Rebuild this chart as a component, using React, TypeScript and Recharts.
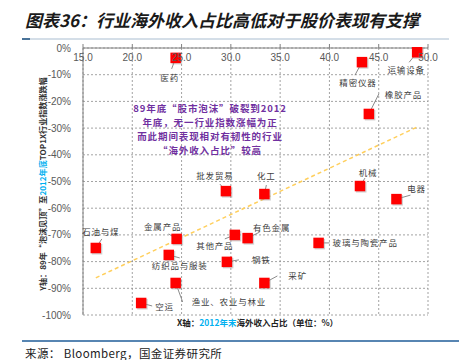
import React from 'react';
import { ScatterChart, Scatter, XAxis, YAxis, CartesianGrid, ReferenceLine } from 'recharts';

const industries = ['医药', '运输设备', '精密仪器', '橡胶产品', '机械', '电器', '玻璃与陶瓷产品', '采矿', '化工', '批发贸易', '金属产品', '其他产品', '有色金属', '纺织品与服装', '钢铁', '渔业、农业与林业', '空运', '石油与煤'];
const overseasShare = [24.4, 48.9, 43.3, 44.0, 43.1, 46.8, 38.9, 33.4, 33.4, 29.5, 24.5, 30.4, 31.7, 23.7, 29.6, 24.4, 20.9, 16.3];
const indexChange = [-3.7, -1.6, -5.3, -24.7, -51.7, -56.6, -73.0, -88.0, -54.7, -53.6, -71.5, -70.0, -71.2, -77.5, -80.1, -88.0, -95.5, -74.9];
const xTicks = [15, 20, 25, 30, 35, 40, 45, 50];
const yTicks = [0, -10, -20, -30, -40, -50, -60, -70, -80, -90, -100];
const trendX = [16.3, 48.9];
const trendY = [-86.1, -29.6];

const titleText = '图表36：行业海外收入占比高低对于股价表现有支撑';
const noteLines = ['89年底“股市泡沫”破裂到2012', '年底，无一行业指数涨幅为正', '而此期间表现相对有韧性的行业', '“海外收入占比”较高'];
const sourceText = '来源：  Bloomberg，国金证券研究所';

const data = industries.map((name, i) => ({ name, x: overseasShare[i], y: indexChange[i] }));

// label placement: [labelDx, labelDy, leaderEndDx, leaderEndDy, anchor]
const labelPlacement: Record<string, [number, number, number, number, string]> = {
  '医药': [-6, 20, -4, 11, 'middle'],
  '运输设备': [-11, 18, -8, 10, 'middle'],
  '精密仪器': [-4, 21, -7, 13, 'middle'],
  '橡胶产品': [16, -19, 10, -20, 'start'],
  '机械': [8, -13, 5, -8, 'middle'],
  '电器': [20, -10, 14, -4, 'middle'],
  '玻璃与陶瓷产品': [14, 0, 11, 0, 'start'],
  '采矿': [24, -7, 13, -7, 'start'],
  '化工': [2, -18, 2, -9, 'middle'],
  '批发贸易': [-11, -15, -6, -7, 'middle'],
  '金属产品': [-14, -12, -8, -5, 'middle'],
  '其他产品': [-20, 11, -10, 4, 'middle'],
  '有色金属': [24, -10, 12, -6, 'middle'],
  '纺织品与服装': [11, 11, 11, 3, 'middle'],
  '钢铁': [25, -2, 12, -2, 'start'],
  '渔业、农业与林业': [16, 19, 7, 19, 'start'],
  '空运': [14, 4, 11, 3, 'start'],
  '石油与煤': [5, -16, 6, -9, 'middle'],
};

const CJK = '"Noto Sans CJK SC", "Noto Sans", sans-serif';

const PointShape = (props: any) => {
  const { cx, cy, payload } = props;
  if (cx == null || cy == null) return null;
  const p = labelPlacement[payload.name] || [0, -12, 0, -6, 'middle'];
  const [ldx, ldy, ex, ey, anchor] = p;
  return (
    <g>
      <line x1={cx} y1={cy} x2={cx + ex} y2={cy + ey} stroke="#595959" strokeWidth={0.7} />
      <rect x={cx - 4} y={cy - 4} width={10.5} height={10.5} fill="#9a9a9a" opacity={0.45} />
      <rect x={cx - 5.25} y={cy - 5.25} width={10.5} height={10.5} fill="#FF0000" />
      <text x={cx + ldx} y={cy + ldy} dy="0.35em" textAnchor={anchor as any} fontSize={8.5} fill="#404040" fontFamily={CJK} letterSpacing={0.8}>
        {payload.name}
      </text>
    </g>
  );
};

const PLOT_TOP = 48;

const XTick = (props: any) => {
  const { x, payload } = props;
  return (
    <text x={x} y={PLOT_TOP + 13} textAnchor="middle" fontSize={10} fill="#595959" fontFamily="Arial, 'Liberation Sans', sans-serif">
      {Number(payload.value).toFixed(1)}
    </text>
  );
};

export default function App() {
  return (
    <div style={{ position: 'absolute', left: 0, top: 0, width: 459, height: 360, background: '#fff' }}>
      <ScatterChart width={459} height={360} margin={{ top: 28, right: 31, bottom: 45, left: 43 }}>
        <CartesianGrid stroke="#8c8c8c" strokeDasharray="2 2" strokeWidth={0.8} />
        <XAxis
          type="number"
          dataKey="x"
          orientation="top"
          height={20}
          domain={[15, 50]}
          ticks={xTicks}
          interval={0}
          axisLine={{ stroke: '#808080' }}
          tickLine={{ stroke: '#808080' }}
          tickSize={4}
          tick={<XTick />}
        />
        <YAxis
          type="number"
          dataKey="y"
          width={40}
          domain={[-100, 0]}
          ticks={yTicks}
          interval={0}
          axisLine={{ stroke: '#808080' }}
          tickLine={false}
          tickMargin={6}
          tickFormatter={(v: number) => `${v}%`}
          tick={{ fontSize: 10, fill: '#595959', fontFamily: "Arial, 'Liberation Sans', sans-serif" }}
        />
        <Scatter data={data} shape={<PointShape />} isAnimationActive={false} />
        <ReferenceLine
          segment={[{ x: trendX[0], y: trendY[0] }, { x: trendX[1], y: trendY[1] }]}
          stroke="#FFCF5C"
          strokeWidth={1.5}
          strokeDasharray="4 3"
          ifOverflow="visible"
        />
      </ScatterChart>
      <svg width={459} height={360} style={{ position: 'absolute', left: 0, top: 0, pointerEvents: 'none' }}>
        <text x={25} y={27} fontSize={17} fontWeight="bold" fontStyle="italic" fill="#1a1a1a" fontFamily={CJK}>
          {titleText}
        </text>
        <line x1={22} y1={39} x2={449} y2={39} stroke="#A9BDD0" strokeWidth={1} />
        <line x1={22} y1={39} x2={30} y2={39} stroke="#4A7399" strokeWidth={2} />
        {noteLines.map((t, i) => (
          <text key={i} x={210} y={109 + i * 14} dy="0.35em" textAnchor="middle" fontSize={9.5} fontWeight="bold" fill="#7030A0" fontFamily={CJK} letterSpacing={0.9}>
            {t}
          </text>
        ))}
        <text transform="translate(43,184) rotate(-90)" textAnchor="middle" dy="0.35em" fontSize={8.1} fontWeight="bold" fill="#333" fontFamily={CJK}>
          <tspan>Y轴：89年“泡沫见顶”至</tspan>
          <tspan fill="#00B0F0">2012年底</tspan>
          <tspan>TOP1X行业指数涨跌幅</tspan>
        </text>
        <text x={177} y={323} dy="0.35em" fontSize={8.5} fontWeight="bold" fill="#222" fontFamily={CJK}>
          <tspan>X轴：</tspan>
          <tspan fill="#00B0F0">2012年末</tspan>
          <tspan>海外收入占比（单位：%）</tspan>
        </text>
        <line x1={22} y1={341} x2={459} y2={341} stroke="#1F5C99" strokeWidth={1.5} />
        <text x={25} y={354} dy="0.35em" fontSize={11.5} fill="#222" fontFamily={CJK} letterSpacing={0.4}>
          {sourceText}
        </text>
      </svg>
    </div>
  );
}
